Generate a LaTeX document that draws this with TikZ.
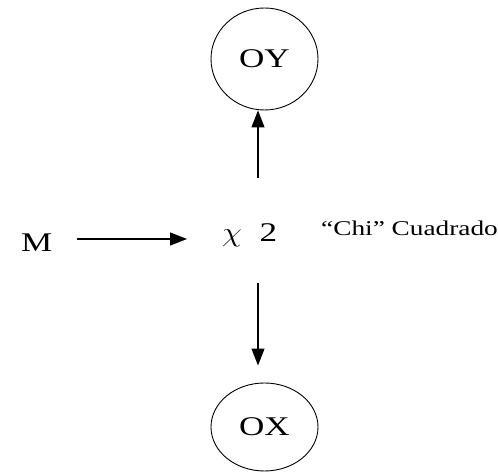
\documentclass[tikz,border=0pt]{standalone}
\usepackage{fontspec}
\setmainfont{Liberation Serif}[FakeStretch=1.3]
\usetikzlibrary{shapes.geometric,arrows.meta}
\tikzstyle{var}=[ellipse,draw,line width=0.9pt,minimum width=107pt,font=\fontsize{27}{30}\selectfont]
\tikzstyle{lbl}=[inner sep=0pt,anchor=base west,font=\fontsize{27}{30}\selectfont]
\tikzstyle{arr}=[-{Triangle[length=17pt,width=13pt]},line width=1.2pt]

\begin{document}
\begin{tikzpicture}[x=1pt,y=1pt]
      \useasboundingbox (0,0) rectangle (498,473);
      \node[var,minimum height=102pt] (oy) at (264.5, 414) {OY};
      \node[var,minimum height=88pt] (ox) at (264.5, 46) {OX};
      \node[lbl] (m) at (21, 221) {M};
      \node[lbl] (chi) at (222, 231) {\scalebox{1.3}[1.1]{$\chi$}\ \ 2};
      \node[lbl,font=\fontsize{21}{24}\selectfont] (cuad) at (321, 237) {``Chi'' Cuadrado};

      \coordinate (up) at (258, 295);
      \coordinate (dn) at (258, 190);
      \draw[arr] (m.east |- 0,234) ++(24,0) -- ([xshift=-35pt]chi.west |- 0,234);
      \draw[arr] (up) -- (up |- oy.south);
      \draw[arr, shorten >=17pt] (dn) -- (dn |- ox.north);
    \end{tikzpicture}
\end{document}
